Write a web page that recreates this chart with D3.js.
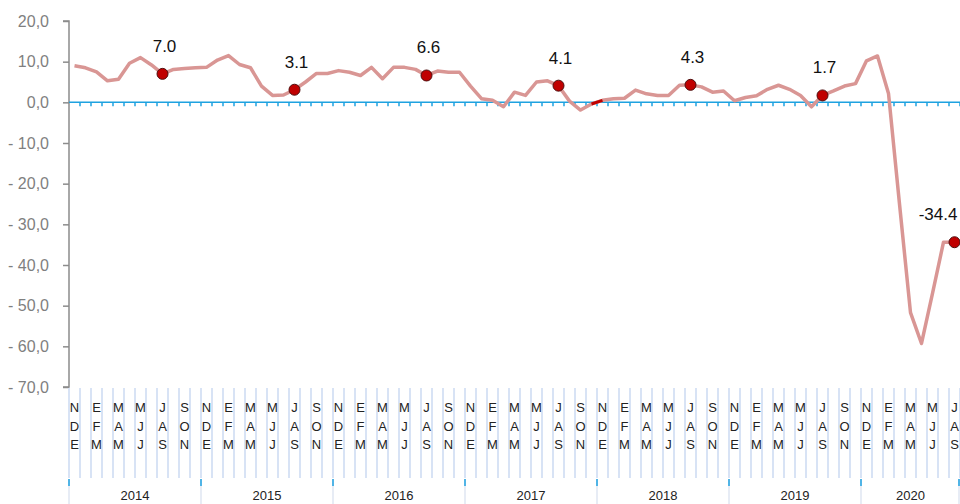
<!DOCTYPE html>
<html>
<head>
<meta charset="utf-8">
<script src="https://cdn.jsdelivr.net/npm/d3@7"></script>
<style>
	html, body { margin: 0; padding: 0; background: #fff; }
	svg { display: block; font-family: 'Liberation Sans', Arial, sans-serif; }
</style>
</head>
<body>
<div id="chart"></div>
<script>
// one value per month, Jan 2014 .. Sep 2020 (rolling quarter)
const years = ['2014', '2015', '2016', '2017', '2018', '2019', '2020']
const monthsPerYear = [12, 12, 12, 12, 12, 12, 9]
// label shown on every other month (quarter ending in that month)
const quarterLabels = ['NDE', '', 'EFM', '', 'MAM', '', 'MJJ', '', 'JAS', '', 'SON', '']
const values = [
	9.0, 8.5, 7.5, 5.3, 5.7, 9.6, 11.0, 9.2, 7.0, 8.1, 8.3, 8.5,
	8.6, 10.4, 11.5, 9.3, 8.5, 4.0, 1.7, 1.8, 3.1, 5.0, 7.1, 7.1,
	7.8, 7.4, 6.6, 8.6, 5.8, 8.6, 8.6, 8.1, 6.6, 7.7, 7.4, 7.4,
	4.0, 0.9, 0.5, -1.1, 2.5, 1.7, 5.0, 5.3, 4.1, 0.3, -1.9, -0.4,
	0.5, 0.9, 1.0, 3.0, 2.1, 1.7, 1.7, 4.2, 4.3, 3.8, 2.5, 2.8,
	0.4, 1.2, 1.6, 3.2, 4.2, 3.2, 1.7, -1.1, 1.7, 2.8, 4.0, 4.6,
	10.2, 11.4, 2.2, -25.0, -51.7, -59.3, -47.0, -34.4, -34.4
]
// highlighted month of each year (Sep, i.e. JAS)
const highlightMonth = 8
// the short dark red piece of the line (Dec 2017 -> Jan 2018)
const redSegment = [47, 48]
const yTicks = [20, 10, 0, -10, -20, -30, -40, -50, -60, -70]

const width = 960
const height = 504
const margin = { left: 69, right: 0, top: 21, plotBottom: 387 }

// build category rows
const rows = []
years.forEach((yr, yi) => {
	for (let m = 0; m < monthsPerYear[yi]; m++) {
		rows.push({ i: rows.length, year: yr, month: m, label: quarterLabels[m], value: values[rows.length] })
	}
})

const svg = d3.select('#chart')
	.append('svg')
	.attr('width', width)
	.attr('height', height)

const x = d3.scaleBand()
	.domain(rows.map(d => d.i))
	.range([margin.left, width - margin.right])
	.paddingInner(0)
	.paddingOuter(0)

const y = d3.scaleLinear()
	.domain([-70, 20])
	.range([margin.plotBottom, margin.top])

const cx = i => x(i) + x.bandwidth() / 2

//---------------- y axis ----------------
const fmtAxis = v => (v < 0 ? '- ' : '') + Math.abs(v).toFixed(1).replace('.', ',')

const yAxis = svg.append('g')
	.attr('transform', `translate(${margin.left},0)`)
	.call(d3.axisLeft(y).tickValues(yTicks).tickSize(6).tickPadding(14).tickFormat(fmtAxis))
yAxis.select('.domain').attr('stroke', '#8c8c8c').attr('stroke-width', 1.5).attr('d', `M-6,${y(20)}H0V${y(-70)}H-6`)
yAxis.selectAll('.tick line').attr('stroke', '#8c8c8c').attr('stroke-width', 1.5)
yAxis.selectAll('.tick text')
	.attr('fill', '#7f7f7f')
	.attr('font-size', 16)
	.attr('font-family', 'Liberation Sans, Arial, sans-serif')

//---------------- category axis area ----------------
const catTop = margin.plotBottom + 1
const catBottom = 478

const bounds = d3.range(rows.length + 1).map(k => margin.left + k * x.bandwidth())
svg.append('g')
	.selectAll('line')
	.data(bounds)
	.join('line')
	.attr('x1', d => d)
	.attr('x2', d => d)
	.attr('y1', catTop)
	.attr('y2', catBottom)
	.attr('stroke', '#d8e3f5')
	.attr('stroke-width', 2)

const monthText = svg.append('g')
	.attr('font-size', 13)
	.attr('fill', '#222')
	.attr('text-anchor', 'middle')
	.selectAll('text')
	.data(rows.filter(d => d.label))
	.join('text')
	.attr('x', d => cx(d.i))
monthText.selectAll('tspan')
	.data(d => d.label.split(''))
	.join('tspan')
	.attr('x', function () { return d3.select(this.parentNode).attr('x') })
	.attr('y', (d, k) => 412 + k * 18.5)
	.text(d => d)

// year groups
const yearGroups = years.map((yr, yi) => {
	const sub = rows.filter(d => d.year === yr)
	return { year: yr, x0: x(sub[0].i), x1: x(sub[sub.length - 1].i) + x.bandwidth() }
})
const yearBounds = yearGroups.map(d => d.x0).concat([width - 1])

svg.append('g')
	.selectAll('line')
	.data(yearBounds)
	.join('line')
	.attr('x1', d => d)
	.attr('x2', d => d)
	.attr('y1', catBottom + 1)
	.attr('y2', height)
	.attr('stroke', '#dfe6f2')
	.attr('stroke-width', 1.5)
svg.append('g')
	.selectAll('line')
	.data(yearBounds)
	.join('line')
	.attr('x1', d => d)
	.attr('x2', d => d)
	.attr('y1', catBottom + 1)
	.attr('y2', catBottom + 8)
	.attr('stroke', '#1ea2e0')
	.attr('stroke-width', 1.5)

svg.append('g')
	.attr('font-size', 13)
	.attr('fill', '#222')
	.attr('text-anchor', 'middle')
	.selectAll('text')
	.data(yearGroups)
	.join('text')
	.attr('x', d => (d.x0 + d.x1) / 2)
	.attr('y', 500)
	.text(d => d.year)

//---------------- zero line with month ticks ----------------
const zeroAxis = svg.append('g')
	.attr('transform', `translate(0,${y(0)})`)
zeroAxis.append('line')
	.attr('x1', margin.left)
	.attr('x2', width)
	.attr('stroke', '#1ea2e0')
	.attr('stroke-width', 1.5)
zeroAxis.selectAll('.zt')
	.data(bounds.slice(1))
	.join('line')
	.attr('class', 'zt')
	.attr('x1', d => d)
	.attr('x2', d => d)
	.attr('y1', 0)
	.attr('y2', 4)
	.attr('stroke', '#1ea2e0')
	.attr('stroke-width', 1.5)

//---------------- series ----------------
const line = d3.line()
	.x(d => cx(d.i))
	.y(d => y(d.value))

svg.append('path')
	.datum(rows)
	.attr('fill', 'none')
	.attr('stroke', '#d99694')
	.attr('stroke-width', 3.5)
	.attr('stroke-linejoin', 'round')
	.attr('d', line)

svg.append('path')
	.datum(rows.filter(d => d.i >= redSegment[0] && d.i <= redSegment[1]))
	.attr('fill', 'none')
	.attr('stroke', '#c00000')
	.attr('stroke-width', 3)
	.attr('d', line)

const marked = rows.filter(d => d.month === highlightMonth)

svg.append('g')
	.selectAll('circle')
	.data(marked)
	.join('circle')
	.attr('cx', d => cx(d.i))
	.attr('cy', d => y(d.value))
	.attr('r', 5.5)
	.attr('fill', '#c00000')
	.attr('stroke', '#4d0d0d')
	.attr('stroke-width', 1)

// data labels, kept inside the right edge
svg.append('g')
	.attr('font-size', 17)
	.attr('fill', '#111')
	.attr('text-anchor', 'middle')
	.selectAll('text')
	.data(marked)
	.join('text')
	.attr('x', d => Math.min(cx(d.i) + 2, width - 22))
	.attr('y', d => y(d.value) - 22)
	.text(d => d.value.toFixed(1))
</script>
</body>
</html>
